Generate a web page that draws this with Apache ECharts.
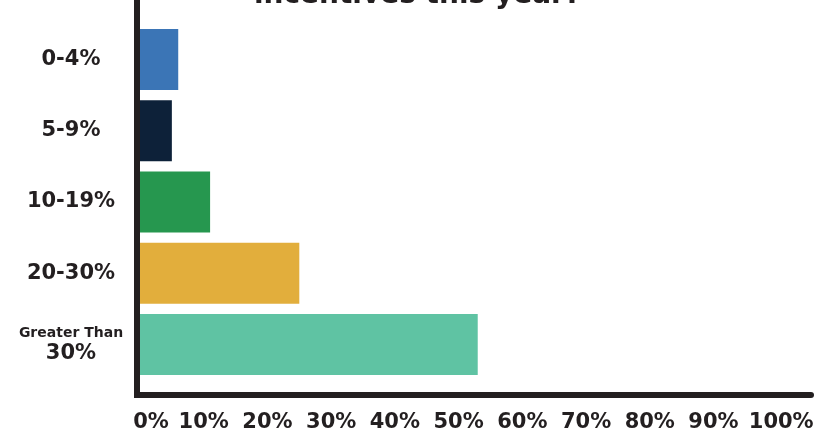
<!DOCTYPE html>
<html>
<head>
<meta charset="utf-8">
<script src="https://cdn.jsdelivr.net/npm/echarts@6/dist/echarts.min.js"></script>
<style>
  html, body { margin: 0; padding: 0; background: #ffffff; }
  #chart { width: 835px; height: 433px; }
</style>
</head>
<body>
<div id="chart"></div>
<script>
// Share of respondents by expected incentive range
const categories = ['0-4%', '5-9%', '10-19%', '20-30%', 'Greater Than 30%'];
const values = [6, 5, 11, 25, 53];
const barColors = ['#3b75b6', '#0d2139', '#26974f', '#e2ae3c', '#5fc3a3'];
const tickValues = [0, 10, 20, 30, 40, 50, 60, 70, 80, 90, 100];
const titleText = 'incentives this year?';

const ink = '#231f20';
const font = '"DejaVu Sans", sans-serif';
const axisMax = 105.3;

const chart = echarts.init(document.getElementById('chart'), null, { renderer: 'canvas' });

chart.setOption({
  animation: false,
  backgroundColor: '#ffffff',
  title: {
    text: titleText,
    left: 'center',
    top: -23,
    textStyle: { fontFamily: font, fontWeight: 'bold', fontSize: 28, color: ink }
  },
  grid: [
    // frame: carries the axis lines and percentage labels
    { left: 140, right: 24, top: 0, bottom: 36 },
    // bars
    { left: 140, right: 24, top: 23.9, bottom: 52.9 }
  ],
  xAxis: [
    {
      gridIndex: 0,
      type: 'value',
      min: 0,
      max: axisMax,
      interval: 10,
      splitLine: { show: false },
      axisTick: { show: false },
      axisLine: { show: true, lineStyle: { color: ink, width: 6 } },
      axisLabel: {
        margin: 17,
        fontFamily: font,
        fontWeight: 'bold',
        fontSize: 21,
        color: ink,
        formatter: function (v) {
          if (tickValues.indexOf(v) < 0) return '';
          if (v === 0) return '{first|' + v + '%}';
          if (v === 100) return '{last|' + v + '%}';
          return v + '%';
        },
        rich: {
          first: { fontFamily: font, fontWeight: 'bold', fontSize: 21, color: ink, padding: [0, 0, 0, 22] },
          last: { fontFamily: font, fontWeight: 'bold', fontSize: 21, color: ink, padding: [0, 0, 0, 8] }
        }
      }
    },
    {
      gridIndex: 1,
      type: 'value',
      min: 0,
      max: axisMax,
      show: false
    }
  ],
  yAxis: [
    {
      gridIndex: 0,
      type: 'value',
      offset: 3.2,
      splitLine: { show: false },
      axisTick: { show: false },
      axisLabel: { show: false },
      axisLine: { show: true, onZero: false, lineStyle: { color: ink, width: 6, cap: 'square' } }
    },
    {
      gridIndex: 1,
      type: 'category',
      inverse: true,
      data: categories,
      axisLine: { show: false },
      axisTick: { show: false },
      axisLabel: {
        align: 'center',
        margin: 69,
        fontFamily: font,
        fontWeight: 'bold',
        fontSize: 21,
        color: ink,
        formatter: function (v) {
          if (v === 'Greater Than 30%') return '{s|Greater Than}\n{b|30%}';
          return v;
        },
        rich: {
          s: { fontFamily: font, fontWeight: 'bold', fontSize: 14, lineHeight: 18, color: ink, align: 'center' },
          b: { fontFamily: font, fontWeight: 'bold', fontSize: 21, lineHeight: 22, color: ink, align: 'center' }
        }
      }
    }
  ],
  series: [
    {
      type: 'bar',
      xAxisIndex: 1,
      yAxisIndex: 1,
      barWidth: 61,
      data: values.map(function (v, i) {
        return { value: v, itemStyle: { color: barColors[i] } };
      })
    }
  ]
});
</script>
</body>
</html>
